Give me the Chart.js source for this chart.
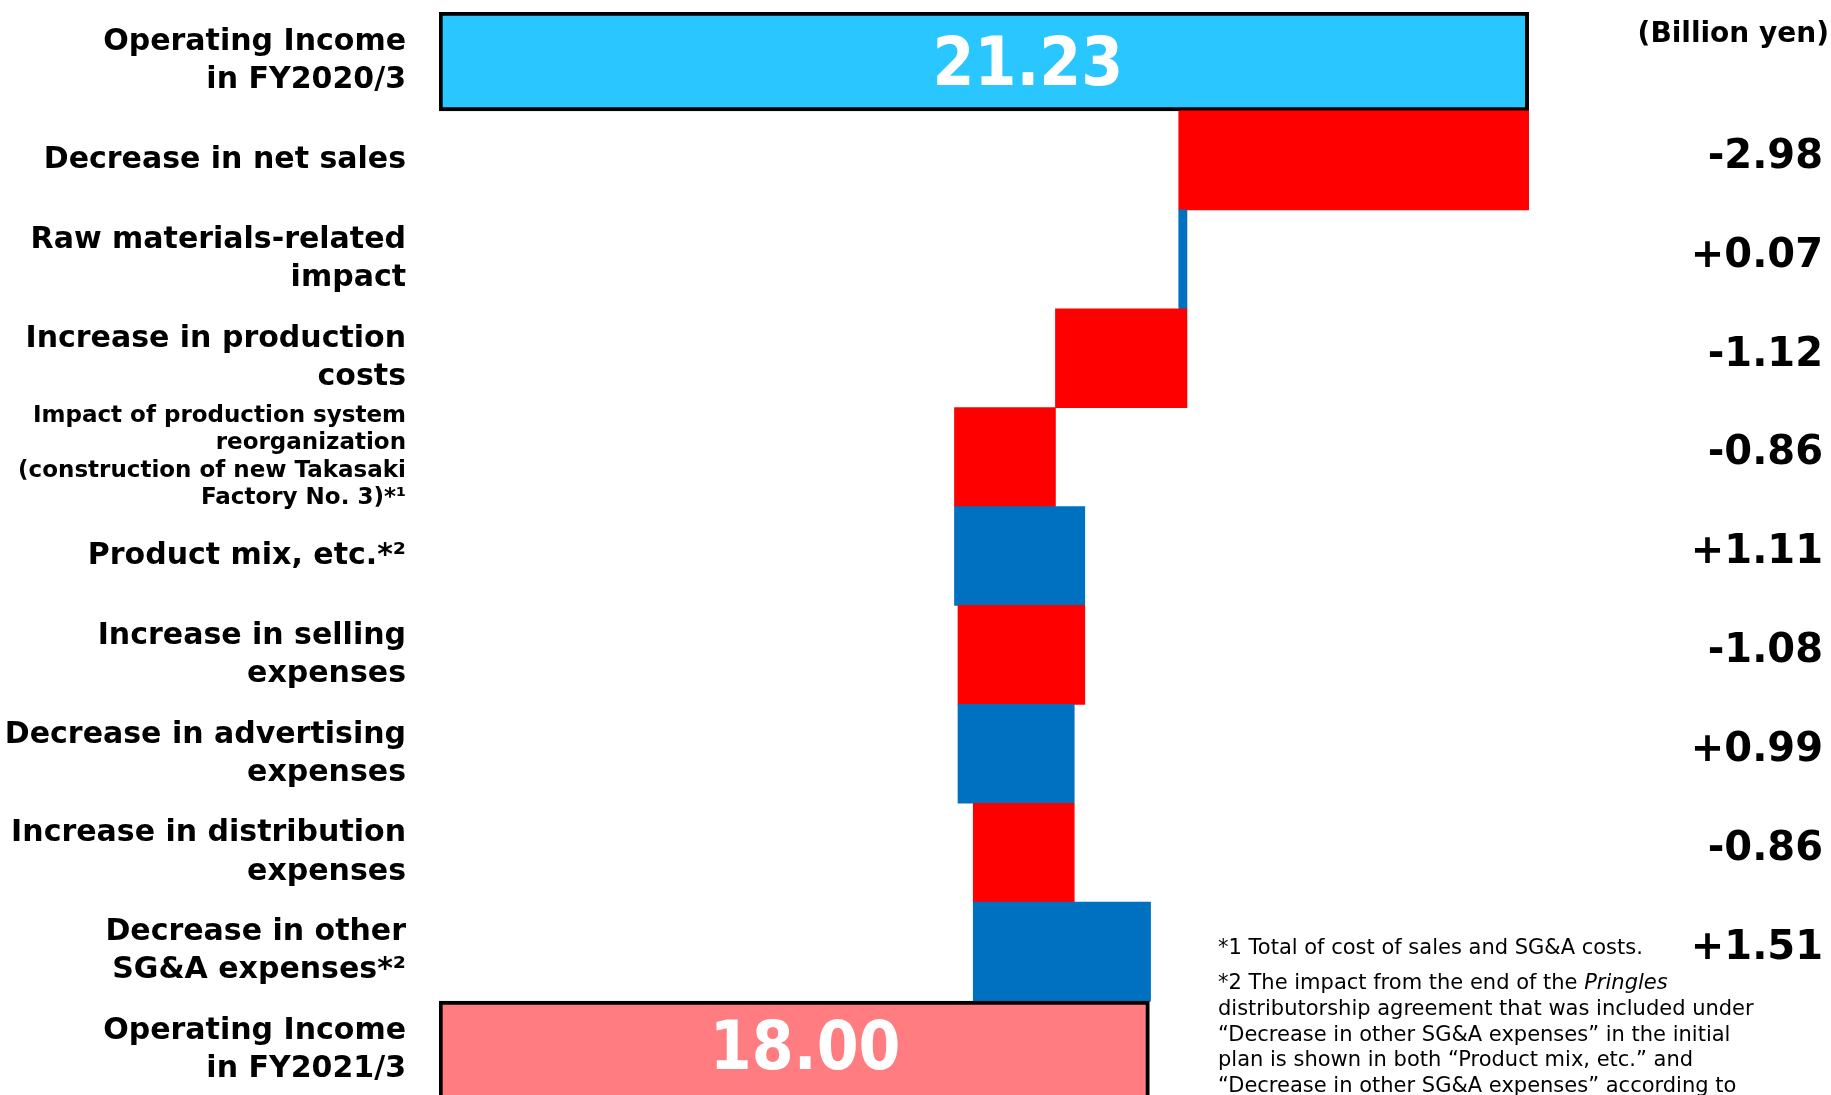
<!DOCTYPE html>
<html>
<head>
<meta charset="utf-8">
<title>Operating income bridge</title>
<script src="https://cdn.jsdelivr.net/npm/chart.js@4.4.1/dist/chart.umd.min.js"></script>
<style>
  html, body { margin: 0; padding: 0; background: #fff; overflow: hidden; }
  #wrap { position: absolute; left: 0; top: 0; width: 1831px; height: 1100px; }
</style>
</head>
<body>
<div id="wrap"><canvas id="grafica" width="1831" height="1100"></canvas></div>
<script>
  // rows, top to bottom
  const categories = [
    ["Operating Income", "in FY2020/3"],
    "Decrease in net sales",
    ["Raw materials-related", "impact"],
    ["Increase in production", "costs"],
    ["Impact of production system", "reorganization", "(construction of new Takasaki", "Factory No. 3)*\u00b9"],
    "Product mix, etc.*\u00b2",
    ["Increase in selling", "expenses"],
    ["Decrease in advertising", "expenses"],
    ["Increase in distribution", "expenses"],
    ["Decrease in other", "SG&A expenses*\u00b2"],
    ["Operating Income", "in FY2021/3"]
  ];
  const startValue = 21.23;
  const endValue = 18.00;
  const changes = [-2.98, 0.07, -1.12, -0.86, 1.11, -1.08, 0.99, -0.86, 1.51];
  const axisMin = 11.95;
  const axisMax = 21.25;
  const unitLabel = "(Billion yen)";
  const notes = [
    [["*1 Total of cost of sales and SG&A costs.", false]],
    [["*2 The impact from the end of the ", false], ["Pringles", true]],
    [["distributorship agreement that was included under", false]],
    [["\u201cDecrease in other SG&A expenses\u201d in the initial", false]],
    [["plan is shown in both \u201cProduct mix, etc.\u201d and", false]],
    [["\u201cDecrease in other SG&A expenses\u201d according to", false]]
  ];

  // floating bars built from the changes
  let running = startValue;
  const bars = [[axisMin, startValue]];
  changes.forEach(function (c) {
    bars.push([running, running + c]);
    running += c;
  });
  bars.push([axisMin, endValue]);
  const last = bars.length - 1;

  const changeText = changes.map(function (c) {
    return (c > 0 ? "+" : "-") + Math.abs(c).toFixed(2);
  });

  function barColor(i) {
    if (i === 0) return "#29C6FF";
    if (i === last) return "#FF7C80";
    return changes[i - 1] < 0 ? "#FF0000" : "#0070C0";
  }

  const textPlugin = {
    id: "textPlugin",
    afterDatasetsDraw: function (chart) {
      const c = chart.ctx;
      const meta = chart.getDatasetMeta(0);
      c.save();
      // totals inside the bars
      c.fillStyle = "#fff";
      c.font = "bold 67px 'DejaVu Sans Condensed', 'DejaVu Sans', sans-serif";
      c.textAlign = "center";
      c.textBaseline = "alphabetic";
      [[0, startValue, 44, 24], [last, endValue, 11, 18]].forEach(function (t) {
        const el = meta.data[t[0]];
        c.fillText(t[1].toFixed(2), (el.x + el.base) / 2 + t[2], el.y + t[3]);
      });
      // change values on the right
      const y = chart.scales.y;
      c.fillStyle = "#000";
      c.font = "bold 40px 'DejaVu Sans', sans-serif";
      c.textAlign = "right";
      c.textBaseline = "middle";
      changeText.forEach(function (s, i) {
        c.fillText(s, 1823, y.getPixelForValue(i + 1) - 3);
      });
      c.font = "bold 28px 'DejaVu Sans', sans-serif";
      c.fillText(unitLabel, 1829, 35);
      // footnotes
      c.textAlign = "left";
      const lineY = [949, 984, 1010, 1036, 1061, 1087];
      notes.forEach(function (line, k) {
        let x = 1218;
        line.forEach(function (seg) {
          c.font = (seg[1] ? "italic " : "") + "21px 'DejaVu Sans', sans-serif";
          c.fillText(seg[0], x, lineY[k]);
          x += c.measureText(seg[0]).width;
        });
      });
      c.restore();
    }
  };

  const ctx = document.getElementById("grafica").getContext("2d");
  const grafica = new Chart(ctx, {
    type: "bar",
    data: {
      labels: categories,
      datasets: [{
        data: bars,
        backgroundColor: bars.map(function (b, i) { return barColor(i); }),
        borderColor: "#000",
        borderWidth: bars.map(function (b, i) { return (i === 0 || i === last) ? 4 : 0; }),
        borderSkipped: false,
        barPercentage: 1,
        categoryPercentage: 1
      }]
    },
    options: {
      indexAxis: "y",
      responsive: false,
      animation: false,
      layout: { padding: { top: 12, right: 8, bottom: 0, left: 0 } },
      plugins: {
        legend: { display: false },
        tooltip: { enabled: false }
      },
      scales: {
        x: {
          display: false,
          min: axisMin,
          max: axisMax
        },
        y: {
          grid: { display: false, drawTicks: false },
          border: { display: false },
          afterFit: function (axis) {
            axis.width = 439;
            axis.paddingTop = 0;
            axis.paddingBottom = 0;
          },
          ticks: {
            autoSkip: false,
            padding: 33,
            color: "#000",
            font: function (c) {
              return c.index === 4
                ? { family: "'DejaVu Sans', sans-serif", size: 23, weight: "bold", lineHeight: 1.2 }
                : { family: "'DejaVu Sans', sans-serif", size: 30, weight: "bold", lineHeight: 1.27 };
            }
          }
        },
        y2: {
          type: "category",
          position: "right",
          labels: categories.map(function () { return ""; }),
          offset: true,
          grid: { display: false, drawTicks: false },
          border: { display: false },
          ticks: { display: false },
          afterFit: function (axis) {
            axis.width = 292;
            axis.paddingTop = 0;
            axis.paddingBottom = 0;
          }
        }
      }
    },
    plugins: [textPlugin]
  });
</script>
</body>
</html>
